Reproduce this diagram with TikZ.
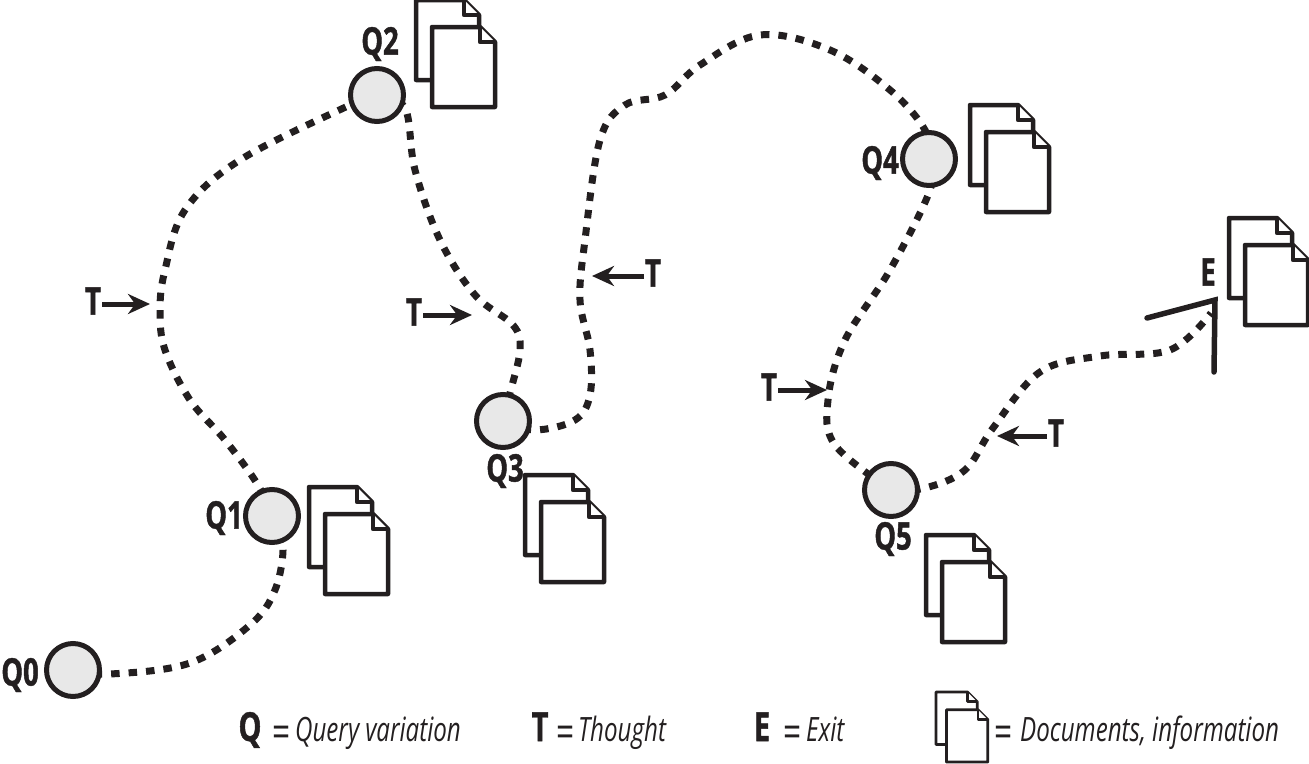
\documentclass[tikz,border=0pt]{standalone}
\usepackage{fontspec}
\setmainfont[FakeStretch=0.72,BoldFeatures={FakeBold=1.2}]{Open Sans}
\usetikzlibrary{arrows.meta}
\definecolor{ink}{HTML}{231F20}
\definecolor{qfill}{HTML}{E8E8E8}
\tikzset{
 qnode/.style={circle,draw=ink,fill=qfill,line width=5pt,minimum size=53pt,inner sep=0pt},
 lab/.style={font=\fontsize{38}{38}\selectfont\bfseries,text=ink,inner sep=0pt,anchor=center},
 leg/.style={font=\fontsize{33.5}{33.5}\selectfont\itshape,text=ink,inner sep=0pt,anchor=base west},
 legeq/.style={font=\fontsize{44}{44}\selectfont,text=ink,inner sep=0pt,anchor=base},
 legb/.style={font=\fontsize{40}{40}\selectfont\bfseries,text=ink,inner sep=0pt,anchor=base},
 trail/.style={draw=ink,line width=7pt,dash pattern=on 8.5pt off 9pt,dash phase=14pt},
 tarrow/.style={draw=ink,line width=5pt,-{Stealth[length=22pt,width=20pt]}},
 page/.style={draw=ink,line width=#1,fill=white,line join=round},
 page/.default=4.5pt,
 pics/docs/.style={code={
   \path[page=#1] (0,0)--(48,0)--(63,15)--(63,80)--(0,80)--cycle;
   \path[page=#1] (48,0)--(48,15)--(63,15);
   \path[page=#1] (16,27)--(64,27)--(79,42)--(79,107)--(16,107)--cycle;
   \path[page=#1] (64,27)--(64,42)--(79,42);
 }}
}
\begin{document}
\begin{tikzpicture}[x=1pt,y=-1pt]
\useasboundingbox (0,0) rectangle (1309,763);
\coordinate (q0) at (73,670);
\coordinate (q1) at (272,516);
\coordinate (q2) at (377,95);
\coordinate (q3) at (503,421);
\coordinate (q4) at (929,159);
\coordinate (q5) at (891,490);
\coordinate (exitc) at (1215,300);
\coordinate (exitin) at (1211,313);
\path[trail] plot[smooth,tension=.6] coordinates {(q0) (110,674) (190,663) (250,625) (275,590) (283,545) (q1)};
\path[trail] plot[smooth,tension=.6] coordinates {(q1) (258,485) (225,440) (190,400) (165,350) (160,310) (165,270) (185,210) (240,160) (350,105) (q2)};
\path[trail] plot[smooth,tension=.6] coordinates {(q2) (405,108) (415,170) (440,240) (475,295) (513,325) (520,350) (510,393) (q3)};
\path[trail] plot[smooth,tension=.6] coordinates {(q3) (535,430) (575,420) (590,395) (590,350) (580,300) (585,240) (600,140) (625,105) (665,95) (700,65) (760,35) (830,50) (890,90) (925,130) (q4)};
\path[trail] plot[smooth,tension=.6] coordinates {(q4) (930,190) (890,270) (845,340) (828,400) (835,445) (q5)};
\path[trail] plot[smooth,tension=.6] coordinates {(q5) (925,488) (965,470) (993,428) (1040,372) (1100,356) (1170,350) (exitin)};
\node[qnode] (n0) at (q0) {};
\node[qnode] (n1) at (q1) {};
\node[qnode] (n2) at (q2) {};
\node[qnode] (n3) at (q3) {};
\node[qnode] (n4) at (q4) {};
\node[qnode] (n5) at (q5) {};
\draw[draw=ink,line width=5.5pt,line cap=round,line join=miter] (1147,318)--(exitc)--(1214,372);
\node[lab] (lq0) at (20,675) {Q0};
\node[lab] (lq1) at (224,518) {Q1};
\node[lab] (lq2) at (380,44) {Q2};
\node[lab] (lq3) at (505,471) {Q3};
\node[lab] (lq4) at (880,163) {Q4};
\node[lab] (lq5) at (893,539) {Q5};
\node[lab] (le) at (1208,272) {E};
\pic at (309,487) {docs=4.5pt};
\pic at (416,0) {docs=4.5pt};
\pic at (525,475) {docs=4.5pt};
\pic at (970,105) {docs=4.5pt};
\pic at (926,535) {docs=4.5pt};
\pic at (1229,218) {docs=4.5pt};
\node[lab] (t1) at (93,301) {T};
\coordinate (t1e) at (150,304);
\draw[tarrow] (t1) ++(9,3) -- (t1e);
\node[lab] (t2) at (414,312) {T};
\coordinate (t2e) at (472,315);
\draw[tarrow] (t2) ++(9,3) -- (t2e);
\node[lab] (t3) at (653,273) {T};
\coordinate (t3e) at (592,276);
\draw[tarrow] (t3) ++(-9,3) -- (t3e);
\node[lab] (t4) at (769,387) {T};
\coordinate (t4e) at (827,390);
\draw[tarrow] (t4) ++(9,3) -- (t4e);
\node[lab] (t5) at (1056,433) {T};
\coordinate (t5e) at (997,436);
\draw[tarrow] (t5) ++(-9,3) -- (t5e);
\node[legb] (kq) at (250,741) {Q};
\node[legeq] (kqe) at (282,747) {=};
\node[leg] (kqt) at (295,741) {Query variation};
\node[legb] (kt) at (540,741) {T};
\node[legeq] (kte) at (566,747) {=};
\node[leg] (ktt) at (578,741) {Thought};
\node[legb] (ke) at (762,741) {E};
\node[legeq] (kee) at (793,747) {=};
\node[leg] (ket) at (806,741) {Exit};
\pic[scale=.655] at (936,692) {docs=2.8pt};
\node[legeq] (kde) at (1004,747) {=};
\node[leg] (kdt) at (1020,741) {Documents, information};
\end{tikzpicture}
\end{document}
